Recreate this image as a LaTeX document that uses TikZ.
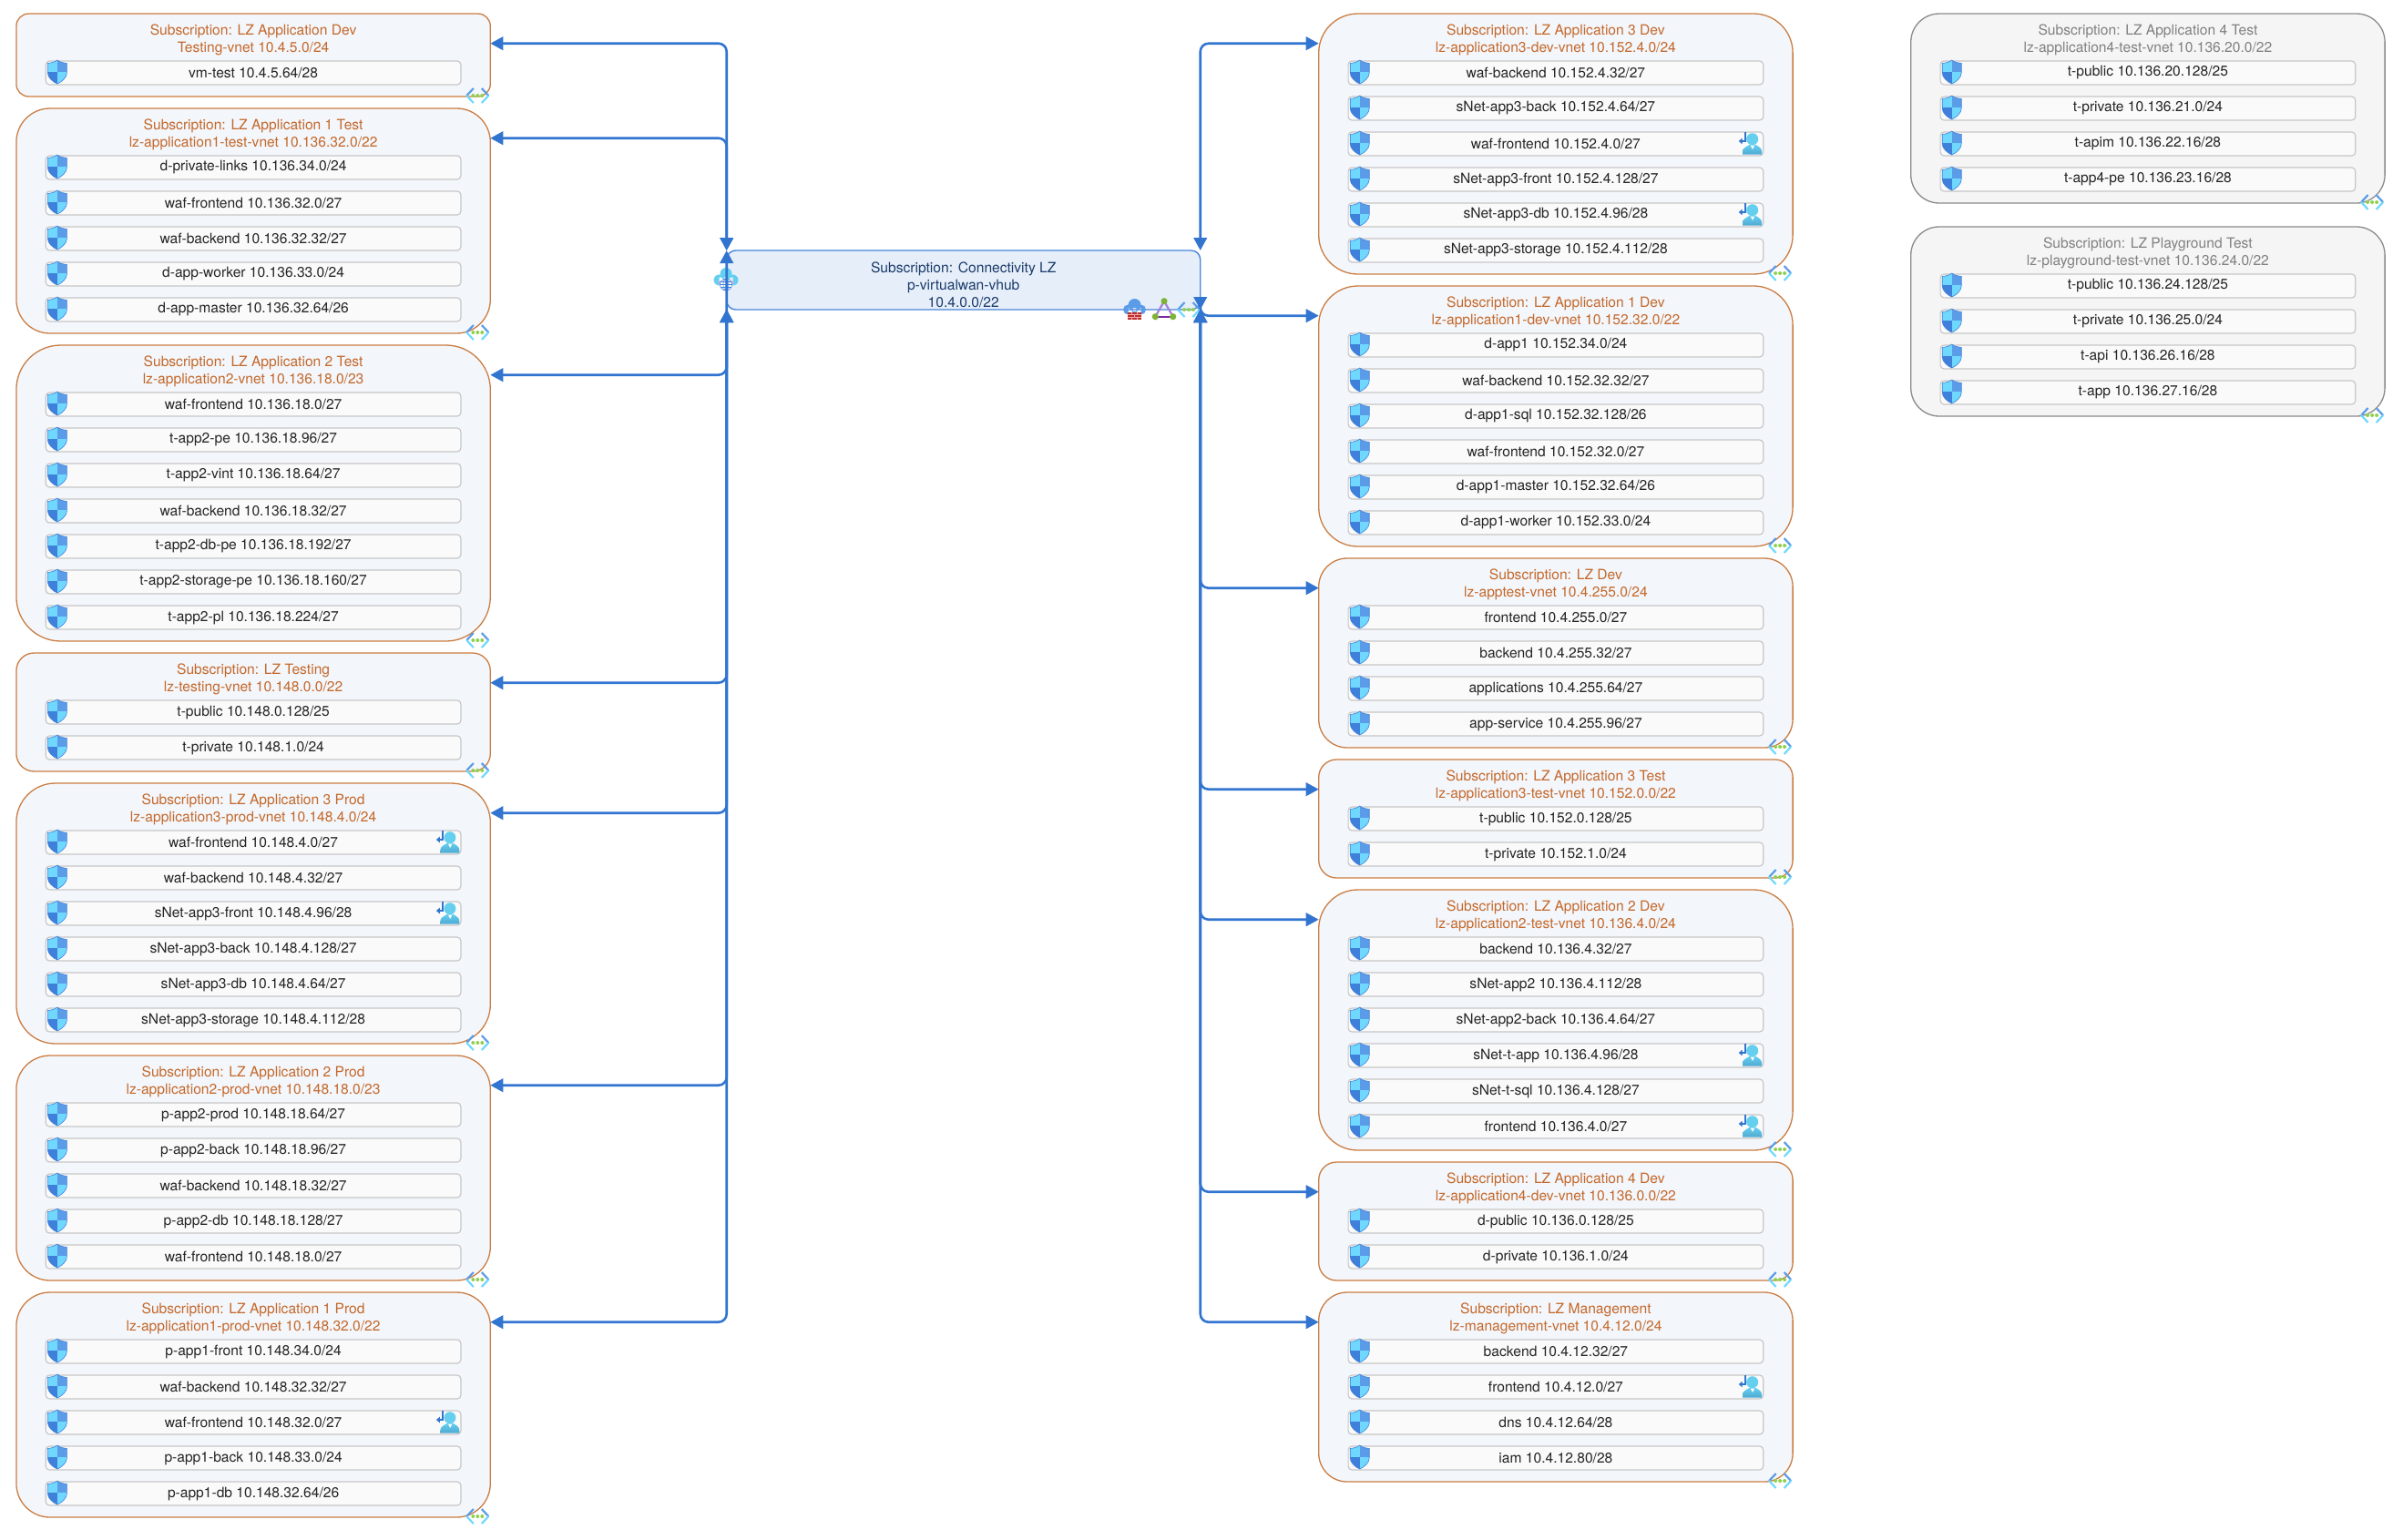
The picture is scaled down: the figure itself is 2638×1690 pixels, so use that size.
\documentclass[tikz,border=0pt]{standalone}
\usepackage{fontspec}
\setmainfont{TeX Gyre Heros}
\usetikzlibrary{arrows.meta}
\definecolor{lzline}{HTML}{CB7D42}
\definecolor{lzfill}{HTML}{F3F6FB}
\definecolor{lztext}{HTML}{C4682A}
\definecolor{idleline}{HTML}{8A8A8A}
\definecolor{idlefill}{HTML}{F5F5F5}
\definecolor{idletext}{HTML}{808080}
\definecolor{peerblue}{HTML}{3275D0}
\definecolor{hubline}{HTML}{4A86D8}
\definecolor{hubfill}{HTML}{E6EFF9}
\definecolor{hubtext}{HTML}{1B3A6B}
\definecolor{shieldlight}{HTML}{70D8FF}
\definecolor{shieldmid}{HTML}{5B9CE8}
\definecolor{shielddark}{HTML}{3F80DA}
\definecolor{skyicon}{HTML}{65CFF0}
\definecolor{skydeep}{HTML}{4FA9D2}
\definecolor{leafgreen}{HTML}{8FD14F}
\definecolor{meshgreen}{HTML}{7FB338}
\definecolor{brickred}{HTML}{B8312F}
\def\shieldpath{(0,-13) .. controls (3,-10.5) and (7,-10) .. (10.5,-9.5) -- (10.5,1) .. controls (10.5,6) and (5,11) .. (0,13) .. controls (-5,11) and (-10.5,6) .. (-10.5,1) -- (-10.5,-9.5) .. controls (-7,-10) and (-3,-10.5) .. (0,-13) -- cycle}
\tikzset{
  vnetframe/.style={anchor=north west,line width=1.3pt,minimum width=520.4pt,inner sep=0pt,outer sep=0pt},
  vnettitle/.style={align=center,inner sep=0pt,font=\fontsize{15.6}{19}\selectfont},
  subnet/.style={draw=black!22,line width=1.2pt,fill=black!2,rounded corners=4pt,minimum width=455.6pt,
    minimum height=26pt,inner sep=0pt,outer sep=0pt,text=black!86,font=\fontsize{15.6}{19}\selectfont},
  hubbox/.style={draw=hubline,fill=hubfill,line width=1.4pt,rounded corners=10pt,minimum width=520pt,
    minimum height=65pt,inner sep=0pt,outer sep=0pt},
  peering/.style={draw=peerblue,line width=2.6pt,rounded corners=9pt,{Triangle[length=14pt,width=14.5pt]}-{Triangle[length=14pt,width=14.5pt]}},
  shieldicon/.pic={
    \begin{scope}
      \clip \shieldpath;
      \fill[shieldlight] (-11,-14) rectangle (0,0);
      \fill[shieldmid] (0,-14) rectangle (11,0);
      \fill[shielddark] (-11,0) rectangle (0,14);
      \fill[shieldlight] (0,0) rectangle (11,14);
    \end{scope}
    \draw[shielddark,line width=.6pt] \shieldpath;
  },
  vneticon/.pic={
    \draw[line width=2.2pt,shieldmid] (-4.5,-8) -- (-12,0);
    \draw[line width=2.2pt,shieldlight] (-12,0) -- (-4.5,8);
    \draw[line width=2.2pt,shieldmid] (4.5,-8) -- (12,0);
    \draw[line width=2.2pt,shieldlight] (12,0) -- (4.5,8);
    \foreach \d in {-5,0,5} \fill[leafgreen] (\d,0) circle (2);
  },
  gatewayicon/.pic={
    \draw[peerblue,line width=1.7pt,-{Triangle[length=4pt,width=6.5pt]}] (-20,0) -- (-20,10) -- (-27,10);
    \fill[skyicon] (-12,7.7) circle (6.5);
    \shade[top color=skyicon,bottom color=skydeep] (-22.7,24.5) -- (-22.7,22) .. controls (-22.7,17) and (-18,16) .. (-15,13.8)
      -- (-8.5,13.8) .. controls (-5.5,16) and (-1.5,17) .. (-1.5,22) -- (-1.5,24.5) -- cycle;
    \fill[white] (-14,14.5) -- (-9.5,14.5) -- (-11.7,19) -- cycle;
  },
  firewallicon/.pic={
    \fill[shieldmid] (0,-3) circle (7) (-7,2) circle (5.5) (7,2) circle (5.5) (-7,0) rectangle (7,8);
    \fill[brickred] (-7.8,5) rectangle (7.8,13);
    \draw[red!35!white,line width=.5pt] (-7.8,7.7) -- (7.8,7.7) (-7.8,10.3) -- (7.8,10.3) (-3,5) -- (-3,7.7) (3,5) -- (3,7.7) (0,7.7) -- (0,10.3) (-3,10.3) -- (-3,13) (3,10.3) -- (3,13);
  },
  meshicon/.pic={
    \draw[violet!60!blue!50,line width=2.2pt] (0,-8.5) -- (-9.7,8.5) (0,-8.5) -- (9.7,8.5);
    \draw[violet!80!blue!85,line width=2.2pt] (-9.7,8.5) -- (9.7,8.5);
    \fill[meshgreen] (0,-8.5) circle (3.6) (-9.7,8.5) circle (3.6) (9.7,8.5) circle (3.6);
  },
  wanicon/.pic={
    \fill[skyicon] (0,-8) circle (6.5) (-7.5,-1) circle (6) (7.5,-1) circle (6) (-7.5,-4) rectangle (7.5,5);
    \fill[magenta!45] (-6,2) circle (2) (6,2) circle (2);
    \fill[white] (0,4) circle (6.5);
    \draw[shielddark,line width=.6pt] (0,4) circle (6.5) (0,4) ellipse (3 and 6.5) (-6.5,4) -- (6.5,4) (-5.6,1) -- (5.6,1) (-5.6,7) -- (5.6,7) (0,-2.5) -- (0,10.5);
  },
}
% name, left, top, rows, colours, title, subnets, rows with a gateway
\newcommand\vnetbox[8]{%
  \pgfmathsetmacro\boxh{52+39*#4}
  \pgfmathsetmacro\boxr{.15*\boxh}
  \node[vnetframe,minimum height=\boxh pt,rounded corners=\boxr pt,draw=#5line,fill=#5fill] (#1) at (#2,#3) {};
  \node[vnettitle,text=#5text] (#1title) at ({#2+260.2},{#3+28.8}) {#6};
  \coordinate (#1w) at (#2,{#3+32.7});
  \coordinate (#1e) at ({#2+520.4},{#3+32.7});
  \foreach \s [count=\i] in {#7} {
    \node[subnet] (#1s\i) at ({#2+260.2},{#3+26+39*\i}) {\raisebox{-1.2pt}{\s}};
    \pic at ([xshift=12.6pt,yshift=1pt]#1s\i.west) {shieldicon};
  }
  \foreach \i in {#8} \pic at (#1s\i.north east) {gatewayicon};
  \pic at ({#2+506.4},{#3+\boxh-1}) {vneticon};
}
\begin{document}
\begin{tikzpicture}[x=1pt,y=-1pt]
\useasboundingbox (0,0) rectangle (2638,1690);

% left column
\vnetbox{appdev}{17.9}{15}{1}{lz}{Subscription: LZ Application Dev\\Testing-vnet 10.4.5.0/24}{vm-test 10.4.5.64/28}{}
\vnetbox{appatest}{17.9}{119}{5}{lz}{Subscription: LZ Application 1 Test\\lz-application1-test-vnet 10.136.32.0/22}
  {d-private-links 10.136.34.0/24,waf-frontend 10.136.32.0/27,waf-backend 10.136.32.32/27,d-app-worker 10.136.33.0/24,d-app-master 10.136.32.64/26}{}
\vnetbox{appbtest}{17.9}{379}{7}{lz}{Subscription: LZ Application 2 Test\\lz-application2-vnet 10.136.18.0/23}
  {waf-frontend 10.136.18.0/27,t-app2-pe 10.136.18.96/27,t-app2-vint 10.136.18.64/27,waf-backend 10.136.18.32/27,t-app2-db-pe 10.136.18.192/27,t-app2-storage-pe 10.136.18.160/27,t-app2-pl 10.136.18.224/27}{}
\vnetbox{testing}{17.9}{717}{2}{lz}{Subscription: LZ Testing\\lz-testing-vnet 10.148.0.0/22}{t-public 10.148.0.128/25,t-private 10.148.1.0/24}{}
\vnetbox{appcprod}{17.9}{860}{6}{lz}{Subscription: LZ Application 3 Prod\\lz-application3-prod-vnet 10.148.4.0/24}
  {waf-frontend 10.148.4.0/27,waf-backend 10.148.4.32/27,sNet-app3-front 10.148.4.96/28,sNet-app3-back 10.148.4.128/27,sNet-app3-db 10.148.4.64/27,sNet-app3-storage 10.148.4.112/28}{1,3}
\vnetbox{appbprod}{17.9}{1159}{5}{lz}{Subscription: LZ Application 2 Prod\\lz-application2-prod-vnet 10.148.18.0/23}
  {p-app2-prod 10.148.18.64/27,p-app2-back 10.148.18.96/27,waf-backend 10.148.18.32/27,p-app2-db 10.148.18.128/27,waf-frontend 10.148.18.0/27}{}
\vnetbox{appaprod}{17.9}{1419}{5}{lz}{Subscription: LZ Application 1 Prod\\lz-application1-prod-vnet 10.148.32.0/22}
  {p-app1-front 10.148.34.0/24,waf-backend 10.148.32.32/27,waf-frontend 10.148.32.0/27,p-app1-back 10.148.33.0/24,p-app1-db 10.148.32.64/26}{3}

% right column
\vnetbox{appcdev}{1447.7}{15}{6}{lz}{Subscription: LZ Application 3 Dev\\lz-application3-dev-vnet 10.152.4.0/24}
  {waf-backend 10.152.4.32/27,sNet-app3-back 10.152.4.64/27,waf-frontend 10.152.4.0/27,sNet-app3-front 10.152.4.128/27,sNet-app3-db 10.152.4.96/28,sNet-app3-storage 10.152.4.112/28}{3,5}
\vnetbox{appadev}{1447.7}{314}{6}{lz}{Subscription: LZ Application 1 Dev\\lz-application1-dev-vnet 10.152.32.0/22}
  {d-app1 10.152.34.0/24,waf-backend 10.152.32.32/27,d-app1-sql 10.152.32.128/26,waf-frontend 10.152.32.0/27,d-app1-master 10.152.32.64/26,d-app1-worker 10.152.33.0/24}{}
\vnetbox{lzdev}{1447.7}{613}{4}{lz}{Subscription: LZ Dev\\lz-apptest-vnet 10.4.255.0/24}
  {frontend 10.4.255.0/27,backend 10.4.255.32/27,applications 10.4.255.64/27,app-service 10.4.255.96/27}{}
\vnetbox{appctest}{1447.7}{834}{2}{lz}{Subscription: LZ Application 3 Test\\lz-application3-test-vnet 10.152.0.0/22}{t-public 10.152.0.128/25,t-private 10.152.1.0/24}{}
\vnetbox{appbdev}{1447.7}{977}{6}{lz}{Subscription: LZ Application 2 Dev\\lz-application2-test-vnet 10.136.4.0/24}
  {backend 10.136.4.32/27,sNet-app2 10.136.4.112/28,sNet-app2-back 10.136.4.64/27,sNet-t-app 10.136.4.96/28,sNet-t-sql 10.136.4.128/27,frontend 10.136.4.0/27}{4,6}
\vnetbox{appddev}{1447.7}{1276}{2}{lz}{Subscription: LZ Application 4 Dev\\lz-application4-dev-vnet 10.136.0.0/22}{d-public 10.136.0.128/25,d-private 10.136.1.0/24}{}
\vnetbox{mgmt}{1447.7}{1419}{4}{lz}{Subscription: LZ Management\\lz-management-vnet 10.4.12.0/24}
  {backend 10.4.12.32/27,frontend 10.4.12.0/27,dns 10.4.12.64/28,iam 10.4.12.80/28}{2}

% not peered
\vnetbox{appdtest}{2097.7}{15}{4}{idle}{Subscription: LZ Application 4 Test\\lz-application4-test-vnet 10.136.20.0/22}
  {t-public 10.136.20.128/25,t-private 10.136.21.0/24,t-apim 10.136.22.16/28,t-app4-pe 10.136.23.16/28}{}
\vnetbox{playtest}{2097.7}{249}{4}{idle}{Subscription: LZ Playground Test\\lz-playground-test-vnet 10.136.24.0/22}
  {t-public 10.136.24.128/25,t-private 10.136.25.0/24,t-api 10.136.26.16/28,t-app 10.136.27.16/28}{}

% hub
\node[hubbox] (hub) at (1057.7,307.5) {};
\node[vnettitle,text=hubtext] (hubtitle) at (1057.7,312.8) {Subscription: Connectivity LZ\\p-virtualwan-vhub\\10.4.0.0/22};
\pic at (1245.5,338) {firewallicon};
\pic at (1278,339.2) {meshicon};
\pic at (1305,340) {vneticon};
\pic at (797,308.5) {wanicon};

% peerings
\foreach \spoke in {appdev,appatest,appbtest} \draw[peering] (hub.north west) |- (\spoke e);
\foreach \spoke in {testing,appcprod,appbprod,appaprod} \draw[peering] (hub.south west) |- (\spoke e);
\draw[peering] (hub.north east) |- (appcdevw);
\foreach \spoke in {appadev,lzdev,appctest,appbdev,appddev,mgmt} \draw[peering] (hub.south east) |- (\spoke w);
\end{tikzpicture}
\end{document}
